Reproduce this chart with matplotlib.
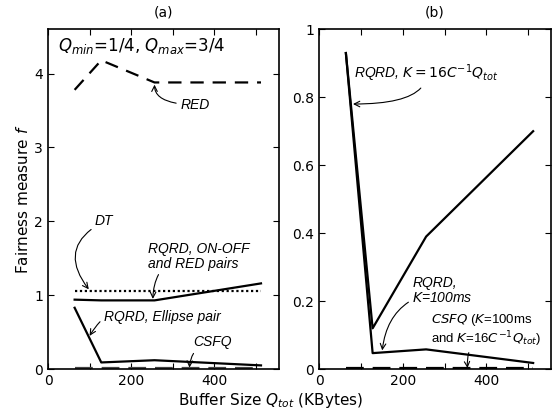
import matplotlib
matplotlib.use("Agg")
import matplotlib.pyplot as plt
from matplotlib.ticker import MultipleLocator

plt.rcParams['font.family'] = ['DejaVu Sans']
plt.rcParams['mathtext.fontset'] = 'dejavusans'

# buffer sizes (KBytes)
q_tot = [64, 128, 256, 512]

# (a) Qmin=1/4, Qmax=3/4
red = [3.78, 4.18, 3.88, 3.88]
dt = [1.06, 1.06, 1.06, 1.06]
rqrd_onoff = [0.94, 0.93, 0.93, 1.16]
rqrd_ellipse = [0.83, 0.09, 0.12, 0.05]
csfq_a = [0.01, 0.01, 0.01, 0.01]

# (b)
rqrd_k16 = [0.93, 0.12, 0.39, 0.70]
rqrd_k100 = [0.93, 0.047, 0.058, 0.018]
csfq_b = [0.004, 0.004, 0.004, 0.004]

fig = plt.figure(figsize=(5.55, 4.18), dpi=100)
ax1 = fig.add_axes([0.0865, 0.117, 0.416, 0.813])
ax2 = fig.add_axes([0.575, 0.117, 0.418, 0.813])

ital = dict(fontsize=10, style='italic', family='Liberation Sans')
arrow = dict(arrowstyle='->', color='black', lw=0.8, shrinkA=1, shrinkB=0)

# ---- (a)
ax1.plot(q_tot, red, 'k', lw=1.6, dashes=(6, 4))
ax1.plot(q_tot, dt, 'k', lw=1.6, linestyle=(0, (1, 1.2)))
ax1.plot(q_tot, rqrd_onoff, 'k', lw=1.6)
ax1.plot(q_tot, rqrd_ellipse, 'k', lw=1.6)
ax1.plot(q_tot, csfq_a, color='#444444', lw=1.6, dashes=(8, 4))

ax1.text(24, 4.38, r'$Q_{min}$=1/4, $Q_{max}$=3/4', fontsize=12, va='center')
ax1.annotate('RED', xy=(256, 3.85), xytext=(318, 3.58), va='center', **ital,
             arrowprops=dict(connectionstyle='angle3,angleA=0,angleB=90', **arrow))
ax1.annotate('DT', xy=(98, 1.08), xytext=(113, 2.0), va='center', **ital,
             arrowprops=dict(connectionstyle='arc3,rad=0.6', **arrow))
ax1.annotate('RQRD, ON-OFF\nand RED pairs', xy=(252, 0.95), xytext=(240, 1.53),
             va='center', linespacing=1.1, **ital,
             arrowprops=dict(connectionstyle='arc3,rad=0.5', **arrow))
ax1.annotate('RQRD, Ellipse pair', xy=(100, 0.45), xytext=(134, 0.70),
             va='center', **ital,
             arrowprops=dict(connectionstyle='arc3,rad=0.5', **arrow))
ax1.annotate('CSFQ', xy=(340, 0.02), xytext=(348, 0.36), va='center', **ital,
             arrowprops=dict(connectionstyle='arc3,rad=0.4', **arrow))

ax1.set_xlim(0, 555)
ax1.set_ylim(0, 4.6)
ax1.yaxis.set_major_locator(MultipleLocator(1))
ax1.set_ylabel('Fairness measure $f$', fontsize=11, labelpad=2)
ax1.set_title('(a)', fontsize=10, pad=9)

# ---- (b)
ax2.plot(q_tot, rqrd_k16, 'k', lw=1.6)
ax2.plot(q_tot, rqrd_k100, 'k', lw=1.6)
ax2.plot(q_tot, csfq_b, 'k', lw=1.6, dashes=(8, 4))

ax2.annotate(r'RQRD, $K = 16C^{-1}Q_{tot}$', xy=(81, 0.78), xytext=(84, 0.87),
             va='center', **ital,
             arrowprops=dict(connectionstyle='angle3,angleA=90,angleB=0', **arrow))
ax2.annotate('RQRD,\n$K$=100ms', xy=(151, 0.055), xytext=(223, 0.23),
             va='center', linespacing=1.1, **ital,
             arrowprops=dict(connectionstyle='arc3,rad=0.4', **arrow))
ax2.annotate('$\\mathit{CSFQ}$ ($K$=100ms\nand $K$=16$C^{-1}Q_{tot}$)', xy=(355, 0.003),
             xytext=(268, 0.115), va='center', linespacing=1.1,
             fontsize=9.5, family='Liberation Sans',
             arrowprops=dict(connectionstyle='arc3,rad=0.3', **arrow))

ax2.set_xlim(0, 555)
ax2.set_ylim(0, 1)
ax2.set_yticks([0, 0.2, 0.4, 0.6, 0.8, 1])
ax2.set_yticklabels(['0', '0.2', '0.4', '0.6', '0.8', '1'])
ax2.set_title('(b)', fontsize=10, pad=9)

for ax in (ax1, ax2):
    ax.xaxis.set_major_locator(MultipleLocator(200))
    ax.xaxis.set_minor_locator(MultipleLocator(100))
    ax.tick_params(which='both', direction='in', top=True, right=True,
                   length=4, width=0.8, labelsize=10)
    for s in ax.spines.values():
        s.set_linewidth(1.2)

fig.text(0.487, 0.03, 'Buffer Size $Q_{tot}$ (KBytes)', ha='center', fontsize=11)

fig.savefig('out.png', dpi=100)
